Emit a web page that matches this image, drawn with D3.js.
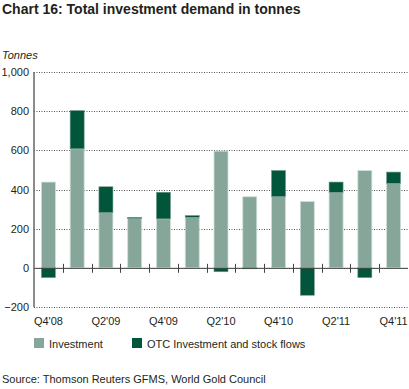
<!DOCTYPE html>
<html lang="en">
<head>
<meta charset="utf-8">
<script src="https://d3js.org/d3.v7.min.js"></script>
<style>
  body { margin: 0; background: #fff; }
  text { font-family: "Liberation Sans", Arial, sans-serif; }
</style>
</head>
<body>
<script>
var quarters = ["Q4'08","Q1'09","Q2'09","Q3'09","Q4'09","Q1'10","Q2'10","Q3'10","Q4'10","Q1'11","Q2'11","Q3'11","Q4'11"];
var investment = [438, 608, 282, 252, 250, 258, 596, 363, 364, 339, 385, 497, 431];
var otcFlows = [-50, 195, 132, 6, 136, 9, -20, -5, 133, -140, 53, -50, 58];
var yTicks = [-200, 0, 200, 400, 600, 800, 1000];
var labelEvery = 2;

var width = 409, height = 389;
var plotLeft = 34, plotRight = 408, plotTop = 72, plotBottom = 307;

var svg = d3.select("body").append("svg")
    .attr("width", width)
    .attr("height", height);

svg.append("text")
    .attr("x", 2).attr("y", 14)
    .style("font-size", "14px").style("font-weight", "bold")
    .attr("fill", "#231f20")
    .text("Chart 16: Total investment demand in tonnes");

svg.append("text")
    .attr("x", 2).attr("y", 59)
    .style("font-size", "11px").style("font-style", "italic")
    .attr("fill", "#231f20")
    .text("Tonnes");

var x = d3.scaleBand().domain(quarters).range([plotLeft, plotRight]).paddingInner(0.5).paddingOuter(0.25);
var y = d3.scaleLinear().domain([-200, 1000]).range([plotBottom, plotTop]);

// gridlines
svg.append("g").selectAll("line")
    .data(yTicks)
    .enter().append("line")
    .attr("x1", plotLeft).attr("x2", width)
    .attr("y1", function(d){ return Math.round(y(d)) + 0.5; })
    .attr("y2", function(d){ return Math.round(y(d)) + 0.5; })
    .attr("stroke", "#555")
    .attr("stroke-dasharray", "1,1.5");

// y labels
svg.append("g").selectAll("text")
    .data(yTicks)
    .enter().append("text")
    .attr("x", 29)
    .attr("y", function(d){ return y(d) + 4; })
    .attr("text-anchor", "end")
    .style("font-size", "11px")
    .attr("fill", "#231f20")
    .text(function(d){ return d3.format(",")(d); });

var bw = x.bandwidth();
var barW = 14;

// investment bars
svg.append("g").selectAll("rect")
    .data(quarters)
    .enter().append("rect")
    .attr("x", function(d){ return x(d) + bw / 2 - barW / 2; })
    .attr("width", barW)
    .attr("y", function(d, i){ return y(investment[i]); })
    .attr("height", function(d, i){ return y(0) - y(investment[i]); })
    .attr("fill", "#86a699")
    .attr("stroke", "#cfe0d8")
    .attr("stroke-width", 0.8);

// OTC bars
svg.append("g").selectAll("rect")
    .data(quarters)
    .enter().append("rect")
    .attr("x", function(d){ return x(d) + bw / 2 - barW / 2; })
    .attr("width", barW)
    .attr("y", function(d, i){
        var v = otcFlows[i];
        return v >= 0 ? y(investment[i] + v) : y(0);
    })
    .attr("height", function(d, i){ return Math.abs(y(0) - y(otcFlows[i])); })
    .attr("fill", "#00553a")
    .attr("stroke", "#6f9a88")
    .attr("stroke-width", 0.6);

// zero line and ticks between bars
svg.append("line")
    .attr("x1", plotLeft).attr("x2", plotRight)
    .attr("y1", y(0) + 0.5).attr("y2", y(0) + 0.5)
    .attr("stroke", "#444").attr("stroke-width", 1);

var step = x.step();
svg.append("g").selectAll("line")
    .data(quarters.slice(1))
    .enter().append("line")
    .attr("x1", function(d){ return Math.round(x(d) - (step - bw) / 2) + 0.5; })
    .attr("x2", function(d){ return Math.round(x(d) - (step - bw) / 2) + 0.5; })
    .attr("y1", y(0) - 4).attr("y2", y(0) + 5)
    .attr("stroke", "#444");

// y axis line
svg.append("line")
    .attr("x1", plotLeft).attr("x2", plotLeft)
    .attr("y1", plotTop).attr("y2", plotBottom)
    .attr("stroke", "#666").attr("stroke-width", 1.5);

// x labels
svg.append("g").selectAll("text")
    .data(quarters.filter(function(d, i){ return i % labelEvery === 0; }))
    .enter().append("text")
    .attr("x", function(d){ return x(d) + bw / 2; })
    .attr("y", 325)
    .attr("text-anchor", "middle")
    .style("font-size", "11px")
    .attr("fill", "#231f20")
    .text(function(d){ return d; });

// legend
var legend = [
    { label: "Investment", color: "#86a699", x: 34 },
    { label: "OTC Investment and stock flows", color: "#00553a", x: 132 }
];
var lg = svg.append("g").selectAll("g").data(legend).enter().append("g");
lg.append("rect")
    .attr("x", function(d){ return d.x; }).attr("y", 338)
    .attr("width", 10).attr("height", 10)
    .attr("fill", function(d){ return d.color; });
lg.append("text")
    .attr("x", function(d){ return d.x + 15; }).attr("y", 348)
    .style("font-size", "11px")
    .attr("fill", "#231f20")
    .text(function(d){ return d.label; });

svg.append("text")
    .attr("x", 2).attr("y", 383)
    .style("font-size", "11px")
    .attr("fill", "#231f20")
    .text("Source: Thomson Reuters GFMS, World Gold Council");
</script>
</body>
</html>
